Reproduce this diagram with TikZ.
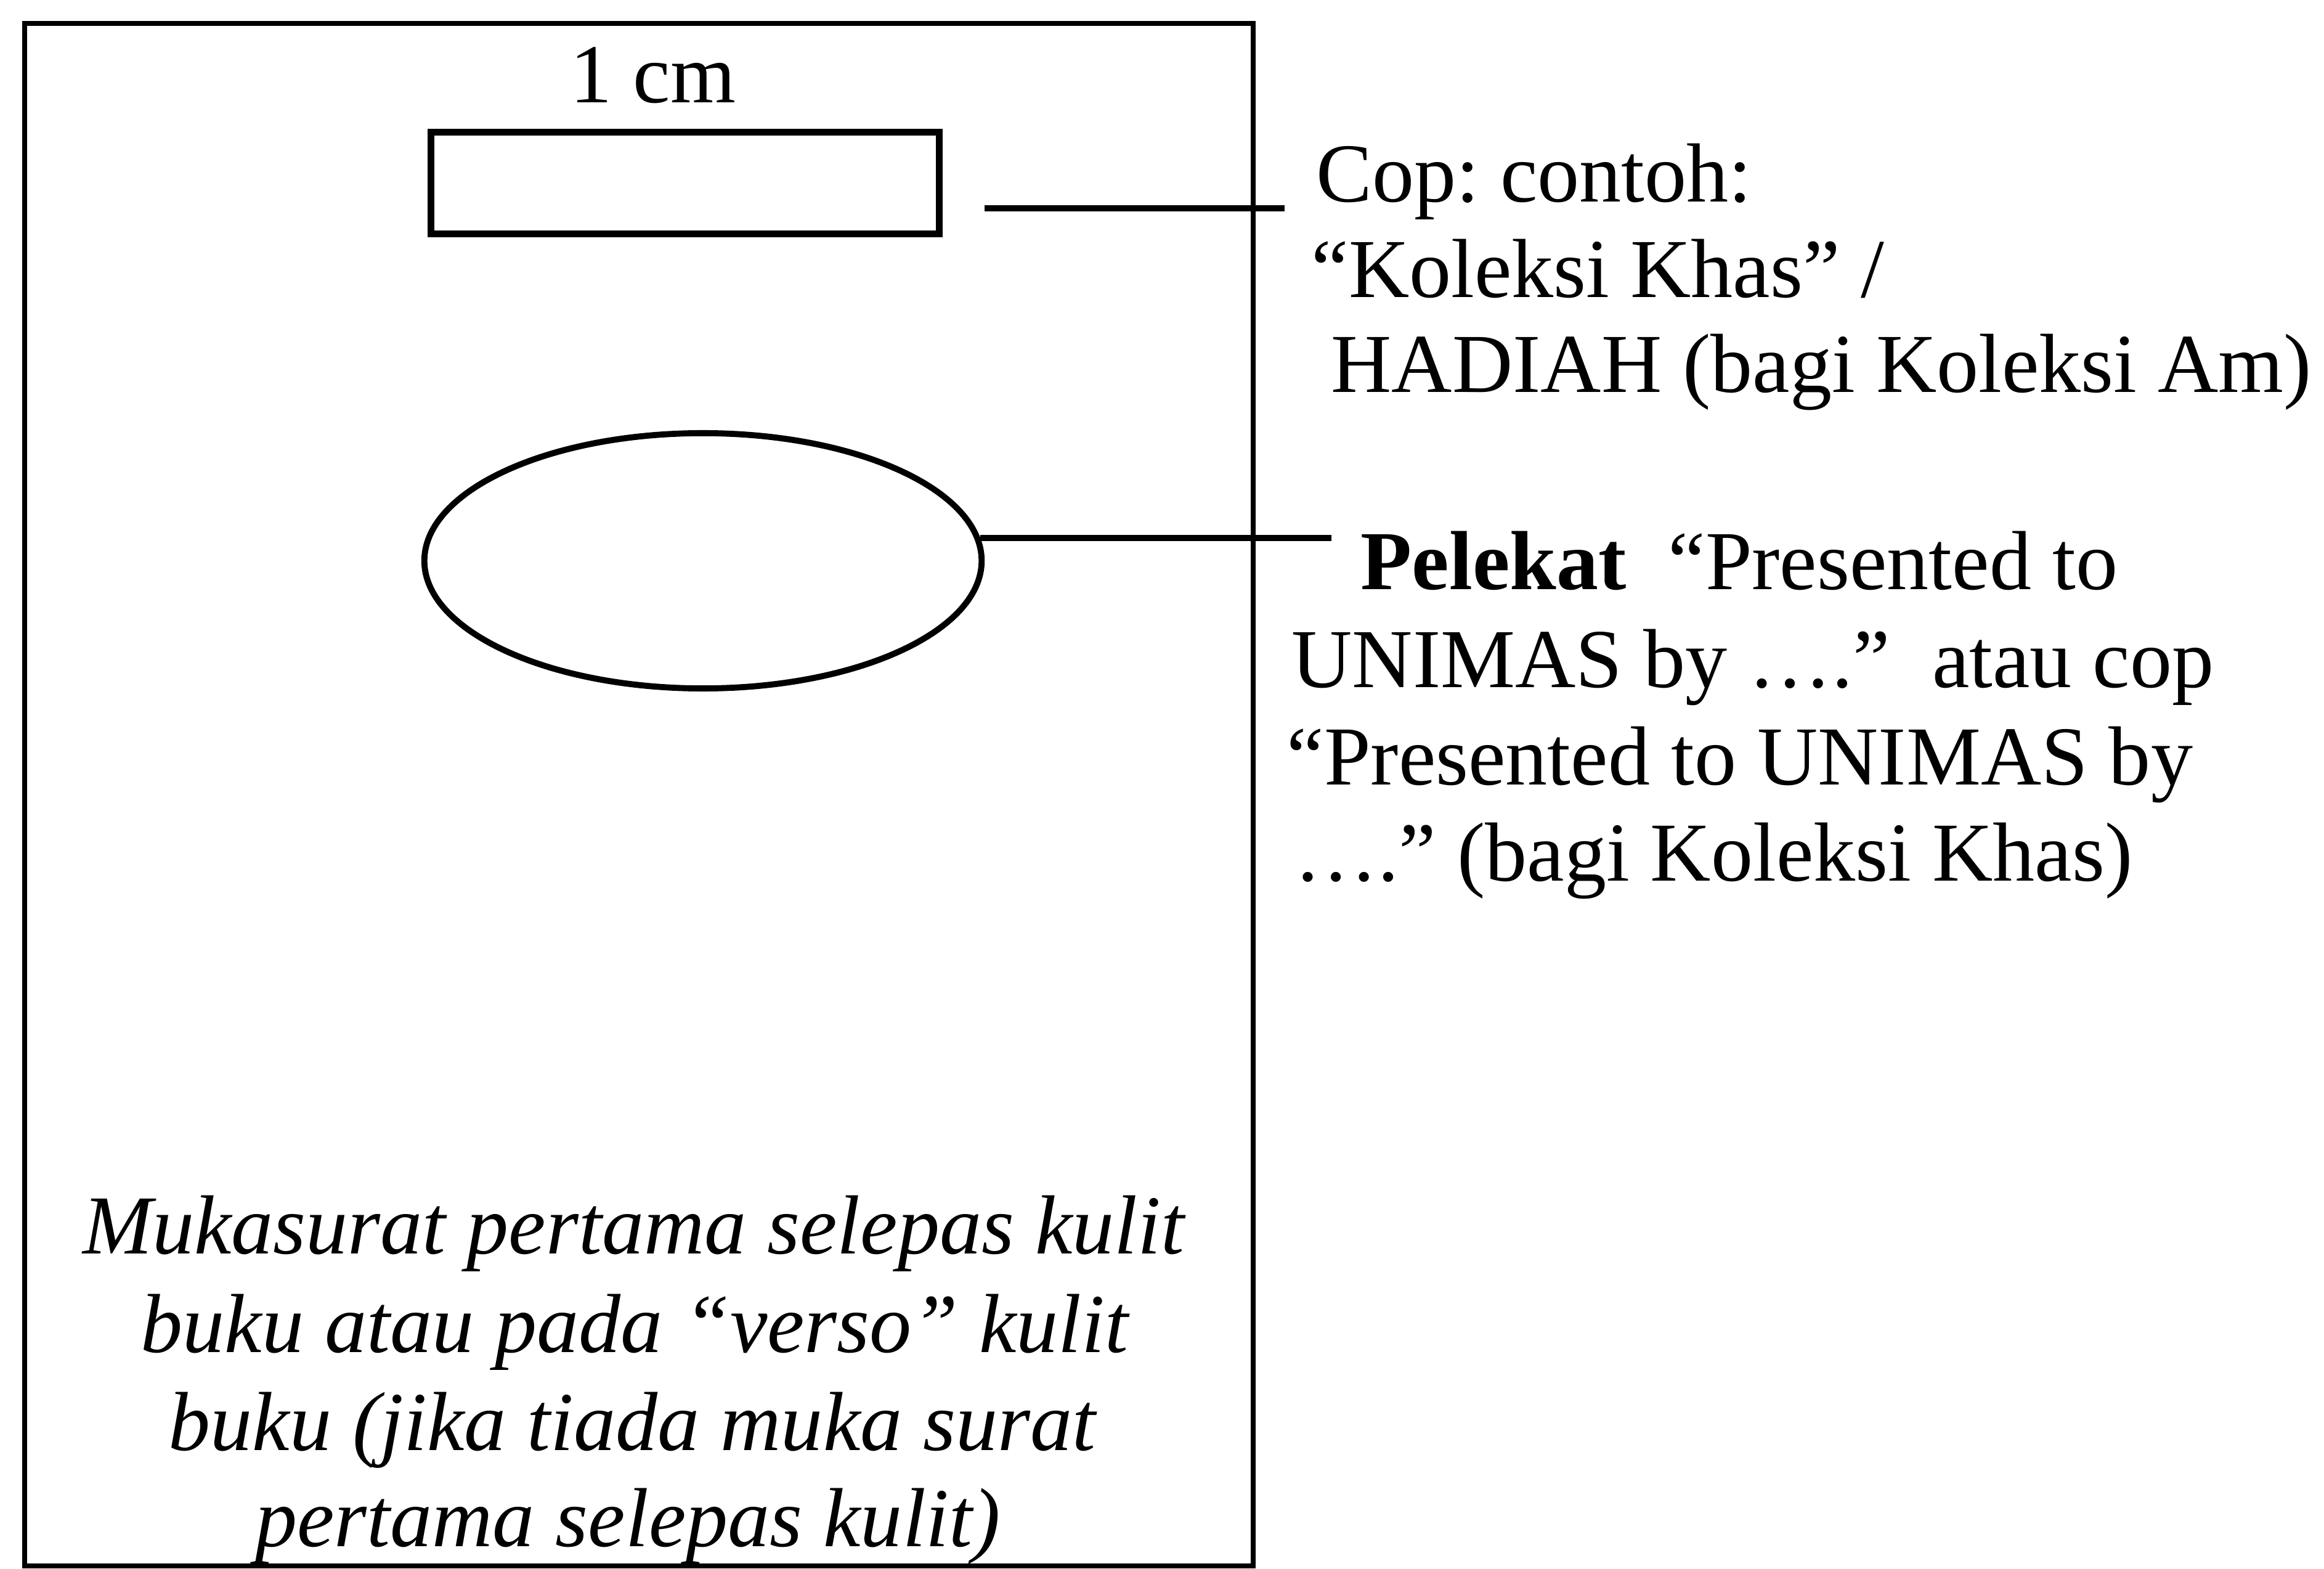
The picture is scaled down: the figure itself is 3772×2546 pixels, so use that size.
\documentclass[tikz,border=0pt]{standalone}
\usepackage{fontspec}
\setmainfont{Liberation Serif}
\usetikzlibrary{shapes.geometric}
\begin{document}
\frenchspacing
\begin{tikzpicture}[x=0.01cm,y=-0.01cm,
  pagebox/.style={draw,line width=2.3pt},
  stampbox/.style={draw,line width=3pt,minimum width=8.25cm,minimum height=1.65cm,inner sep=0pt},
  sticker/.style={draw,ellipse,line width=2.8pt,minimum width=9.04cm,minimum height=4.14cm,inner sep=0pt},
  leader/.style={line width=3pt},
  txt/.style={inner sep=0pt,font=\fontsize{38.7}{44}\selectfont},
  lbl/.style={txt,anchor=base west},
  captxt/.style={txt,anchor=base,font=\fontsize{38.7}{44}\selectfont\itshape}]
\useasboundingbox (0,0) rectangle (3772,2546);
% page outline
\draw[pagebox] (40,38) rectangle (2034,2541);
% stamp rectangle and label
\node[stampbox] (stamp) at (1112,297) {};
\node[txt,anchor=base] (cm) at (1060,167) {1 cm};
% sticker ellipse
\node[sticker] (ell) at (1141,910) {};
% leader lines
\coordinate (copa) at (1598,338);
\coordinate (copb) at (2085,338);
\draw[leader] (copa) -- (copb);
\coordinate (pelend) at (2161,873);
\draw[leader] ([xshift=-0.07cm]ell.east |- pelend) -- (pelend);
% right-hand notes
\node[lbl] (cop1) at (2136,328) {Cop: contoh:};
\node[lbl] (cop2) at (2128,483) {“Koleksi Khas” /};
\node[lbl] (cop3) at (2160,637) {HADIAH (bagi Koleksi Am)};
\node[lbl] (pel1) at (2208,956) {\textbf{Pelekat}\ \ “Presented to};
\node[lbl] (pel2) at (2096,1115) {UNIMAS by ….”\ \ atau cop};
\node[lbl] (pel3) at (2088,1273) {“Presented to UNIMAS by};
\node[lbl] (pel4) at (2100,1429) {….” (bagi Koleksi Khas)};
% caption inside page
\node[captxt] (m1) at (1028,2034) {Mukasurat pertama selepas kulit};
\node[captxt] (m2) at (1030,2194) {buku atau pada “verso” kulit};
\node[captxt] (m3) at (1026,2353) {buku (jika tiada muka surat};
\node[captxt] (m4) at (1019,2509) {pertama selepas kulit)};
\end{tikzpicture}
\end{document}
